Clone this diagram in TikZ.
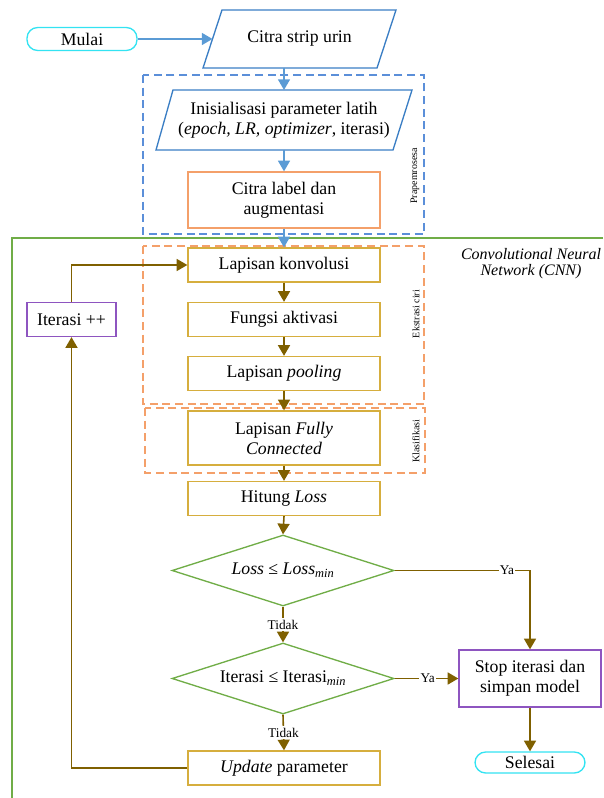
\documentclass[tikz,border=0pt]{standalone}
\usepackage{fontspec}
\setmainfont{Liberation Serif}
\usetikzlibrary{arrows.meta,shapes.geometric}
\definecolor{bluearr}{HTML}{5B9BD5}
\definecolor{bluepar}{HTML}{3A7EC4}
\definecolor{bluedash}{HTML}{5B8FD9}
\definecolor{orangec}{HTML}{F4A06A}
\definecolor{goldc}{HTML}{D6AE3E}
\definecolor{brownc}{HTML}{7F6000}
\definecolor{greenc}{HTML}{70AD47}
\definecolor{purplec}{HTML}{8E55C0}
\definecolor{cyanc}{HTML}{33E3F2}
\tikzset{
  base/.style={font=\fontsize{13.3}{15}\selectfont, align=center, inner sep=0pt},
  goldbox/.style={base, draw=goldc, line width=1pt, minimum width=144pt, minimum height=25.5pt, fill=white},
  orbox/.style={base, draw=orangec, line width=1pt, minimum width=144pt, minimum height=42pt, fill=white},
  purbox/.style={base, draw=purplec, line width=1pt, fill=white},
  term/.style={base, draw=cyanc, line width=1pt, rounded corners=8pt, minimum width=82.5pt, fill=white},
  dia/.style={base, diamond, draw=greenc, line width=1pt, minimum width=166.5pt, minimum height=53.25pt, aspect=3},
  para/.style={draw=bluepar, line width=1pt},
  barrow/.style={draw=bluearr, line width=1.1pt, -{Triangle[length=8pt,width=9pt]}},
  brarrow/.style={draw=brownc, line width=1.2pt, -{Triangle[length=8pt,width=9pt]}},
  lbl/.style={font=\fontsize{10}{11}\selectfont, inner sep=1pt, fill=white},
  vlbl/.style={font=\fontsize{7.5}{8}\selectfont, rotate=90, inner sep=0pt},
  dashbox/.style={line width=1pt, dash pattern=on 6pt off 3.5pt}
}
\begin{document}
\begin{tikzpicture}[x=0.75pt,y=-0.75pt]
\useasboundingbox (0,0) rectangle (603,798);
% CNN frame
\draw[greenc, line width=0.8pt] (603,238) -- (12,238) -- (12,798);
\node[font=\fontsize{12}{12}\selectfont\itshape, align=center, inner sep=0pt] (cnn) at (531,264) {Convolutional Neural\\Network (CNN)};
% dashed groups
\draw[dashbox, bluedash] (143,75) rectangle (424,234);
\draw[dashbox, orangec] (143,246) rectangle (424,404);
\draw[dashbox, orangec] (145,408) rectangle (425,473);
\node[vlbl] (lpra) at (415,176) {Prapemrosesa};
\node[vlbl] (lek) at (416,314) {Ekstrasi ciri};
\node[vlbl] (lkl) at (416,441) {Klasifikasi};
% parallelograms
\draw[para] (203,68) -- (222,10) -- (396,10) -- (377,68) -- cycle;
\node[base] (citra) at (299.5,39) {Citra strip urin};
\coordinate (citraL) at (212.5,39);
\coordinate (citraB) at (284,68);
\draw[para] (156,150) -- (173,90) -- (412,90) -- (393,150) -- cycle;
\node[base] (init) at (284,120.5) {Inisialisasi parameter latih\\(\textit{epoch, LR, optimizer}, iterasi)};
\coordinate (initT) at (284,90);
\coordinate (initB) at (284,150);
% nodes
\node[term, minimum height=17.25pt] (mulai) at (82,39) {Mulai};
\node[orbox] (label) at (284,200) {Citra label dan\\augmentasi};
\node[goldbox] (konv) at (284,265) {Lapisan konvolusi};
\node[goldbox] (fung) at (284,319.5) {Fungsi aktivasi};
\node[goldbox] (pool) at (284,373.5) {Lapisan \textit{pooling}};
\node[goldbox, minimum height=40.5pt] (fc) at (284,438) {Lapisan \textit{Fully}\\\textit{Connected}};
\node[goldbox] (loss) at (284,498.5) {Hitung \textit{Loss}};
\node[dia] (d1) at (283,570.5) {\textit{Loss} ≤ \textit{Loss}\textsubscript{\textit{min}}};
\node[dia] (d2) at (283,678.5) {Iterasi ≤ Iterasi\textsubscript{\textit{min}}};
\node[goldbox] (upd) at (284,768) {\textit{Update} parameter};
\node[purbox, minimum width=66.75pt, minimum height=25.5pt] (iter) at (71.5,319.5) {Iterasi ++};
\node[purbox, minimum width=106.5pt, minimum height=42.75pt] (stop) at (530,678.5) {Stop iterasi dan\\simpan model};
\node[term, minimum height=15.75pt] (sel) at (530,762.5) {Selesai};
% blue arrows
\draw[barrow] (mulai.east) -- (citraL);
\draw[barrow] (citraB) -- (initT);
\draw[barrow] (initB) -- (label.north);
\draw[barrow] (label.south) -- (konv.north);
% brown arrows
\draw[brarrow] (konv) -- (fung);
\draw[brarrow] (fung) -- (pool);
\draw[brarrow] (pool) -- (fc);
\draw[brarrow] (fc) -- (loss);
\draw[brarrow] (loss.south) -- (d1.north);
\draw[brarrow] (d1.south) -- node[lbl] {Tidak} (d2.north);
\draw[brarrow] (d2.south) -- node[lbl] {Tidak} (upd.north);
\draw[brarrow] (d1.east) -- node[lbl, pos=0.83] {Ya} (d1.east -| stop.north) -- (stop.north);
\draw[brarrow] (d2.east) -- node[lbl, pos=0.52] {Ya} (stop.west);
\draw[brarrow] (stop.south) -- (sel.north);
\draw[brarrow] (upd.west) -| (iter.south);
\draw[brarrow] (iter.north) |- (konv.west);
\end{tikzpicture}
\end{document}
